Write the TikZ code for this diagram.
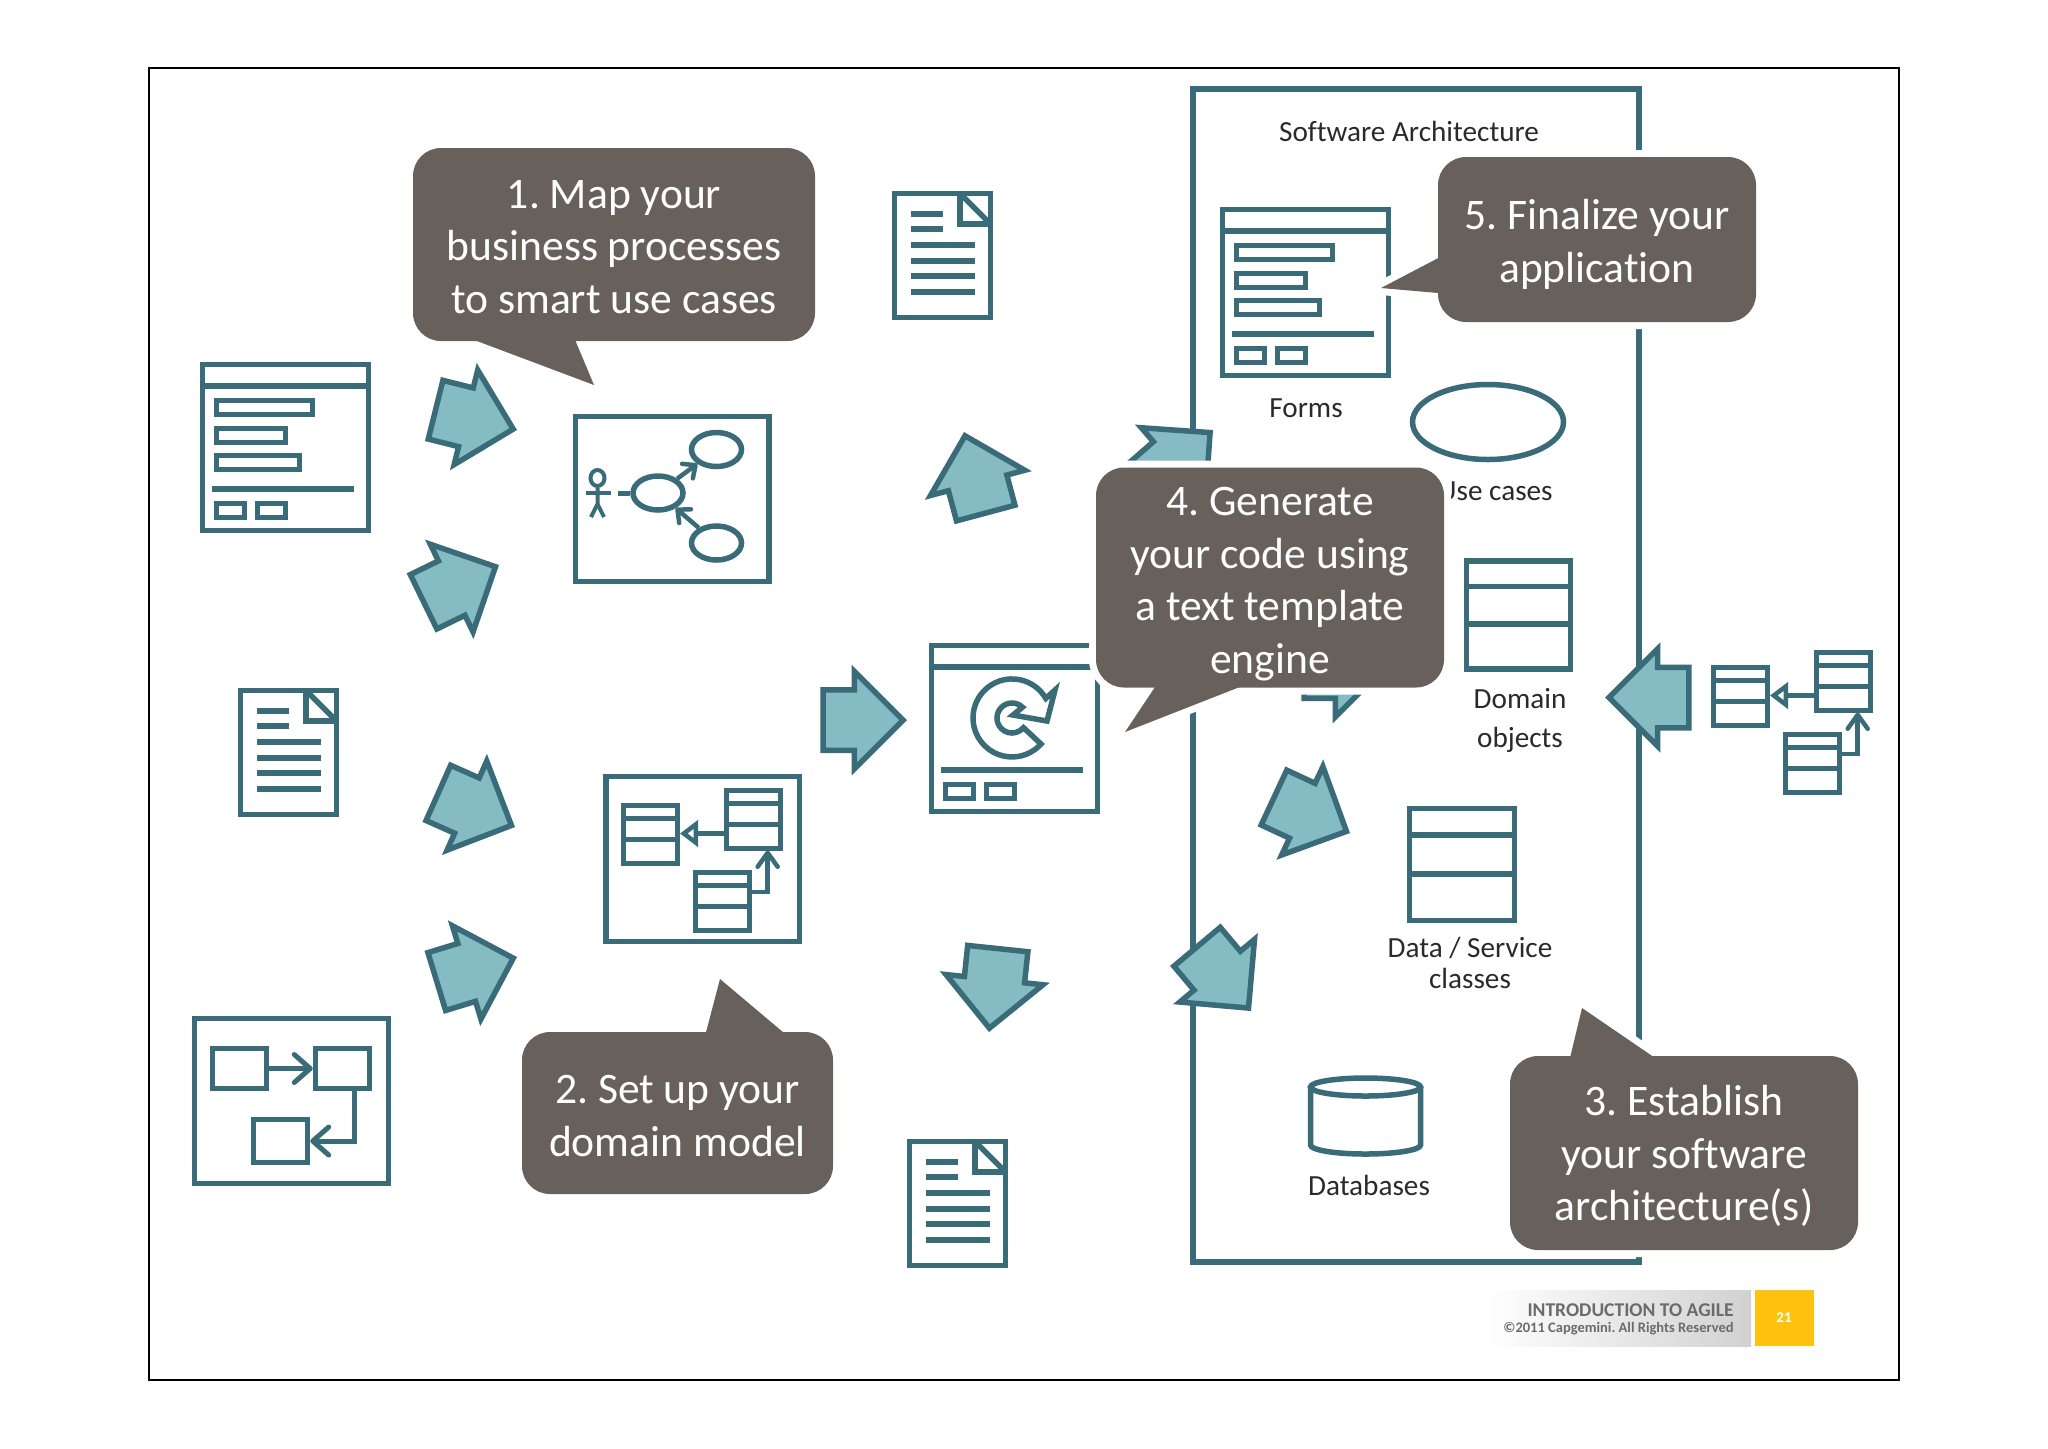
\documentclass[tikz,border=0pt]{standalone}
\usepackage{fontspec}
\setmainfont{Carlito}[Ligatures=NoCommon]
\usepackage{xcolor}
\usetikzlibrary{positioning, arrows.meta, calc, shapes.geometric, shapes.arrows}
\definecolor{tealline}{HTML}{3A6B78}
\definecolor{tealfill}{HTML}{85BCC4}
\definecolor{bubblegrey}{HTML}{67605B}
\definecolor{labelink}{HTML}{2A2A2E}
\definecolor{footerink}{HTML}{6B6B6B}
\definecolor{footeryellow}{HTML}{FFC20E}
\frenchspacing

\tikzset{
  iconline/.style={draw=tealline, line width=2.75pt, line join=miter},
  innerline/.style={draw=tealline, line width=2.5pt},
  textline/.style={draw=tealline, line width=3pt},
  fatarrow/.style={single arrow, draw=tealline, fill=tealfill, line width=2.75pt, inner xsep=0pt, inner ysep=13.75pt,
    minimum height=40pt, minimum width=46pt, single arrow head extend=9.25pt, anchor=tip},
  bubble/.style={fill=bubblegrey, rounded corners=14pt, inner sep=0pt},
  bubbletext/.style={text=white, align=center, inner sep=0pt, font=\fontsize{21.8}{26.3}\selectfont},
  bubblehalo/.style={draw=white, line width=7pt, rounded corners=14pt, inner sep=0pt},
  archlabel/.style={text=labelink, align=center, inner sep=0pt, font=\fontsize{14.6}{15}\selectfont},
  tablebox/.style={draw=tealline, inner sep=0pt},
  useellipse/.style={ellipse, draw=tealline, line width=2.75pt, inner sep=0pt, minimum width=25pt, minimum height=17pt},
  flowbox/.style={rectangle, draw=tealline, line width=2.75pt, inner sep=0pt, minimum width=27pt, minimum height=20pt},
}

\newcommand{\formicon}[2]{
  \begin{scope}[shift={(#1,#2)}]
    \draw[iconline] (2.5,2.5) rectangle (168.5,168.5);
    \draw[iconline] (2.5,24) -- (168.5,24);
    \draw[iconline] (12,127) -- (154,127);
    \draw[innerline] (16,141) rectangle (44,155);
    \draw[innerline] (57,141) rectangle (85,155);
  \end{scope}
}
\newcommand{\formbars}[2]{
  \begin{scope}[shift={(#1,#2)}]
    \draw[innerline] (16,38) rectangle (112,52);
    \draw[innerline] (16,66) rectangle (85,80);
    \draw[innerline] (16,93) rectangle (99,107);
  \end{scope}
}
\newcommand{\docicon}[2]{
  \begin{scope}[shift={(#1,#2)}]
    \draw[iconline] (2.5,2.5) rectangle (98.5,126.5);
    \draw[iconline] (68,2.5) -- (68,33) -- (98.5,33);
    \draw[iconline] (70,4.5) -- (96.5,31);
    \foreach \ly/\lx in {23/51, 38/51, 54/83, 70/83, 85/83, 101/83}
      \draw[textline] (19,\ly) -- (\lx,\ly);
  \end{scope}
}
\newcommand{\tableicon}[6]{
  \node[tablebox, line width=#6, minimum width=#4*0.5pt, minimum height=#5*0.5pt] (#1) at (#2,#3) {};
  \draw[tealline, line width=#6] ($(#1.north west)!.25!(#1.south west)$) -- ($(#1.north east)!.25!(#1.south east)$);
  \draw[tealline, line width=#6] ($(#1.north west)!.58!(#1.south west)$) -- ($(#1.north east)!.58!(#1.south east)$);
}
\newcommand{\domainicon}[3]{
  \begin{scope}[shift={(#2,#3)}]
    \tableicon{#1a}{29.5}{31.5}{54}{58}{2.5pt}
    \tableicon{#1b}{132.5}{16}{54}{58}{2.5pt}
    \tableicon{#1c}{101}{98.5}{54}{58}{2.5pt}
    \coordinate (#1bs) at ($(#1b.south west)!.27!(#1b.north west)$);
    \coordinate (#1cs) at ($(#1c.south east)!.65!(#1c.north east)$);
    \coordinate (#1bt) at ($(#1b.south west)!.74!(#1b.south east)$);
    \draw[tealline, line width=2.5pt, -{Triangle[open, fill=white, length=9pt, width=13pt]}] (#1bs) -- (#1bs -| #1a.east);
    \draw[tealline, line width=2.25pt, -{Straight Barb[length=7pt, width=10pt, round]}] (#1cs) -| (#1bt);
  \end{scope}
}
\newcommand{\speechbubble}[7]{
  \path[draw=white, line width=7pt, line join=round] #5 -- cycle;
  \node[bubblehalo, minimum width=#3*0.5pt, minimum height=#4*0.5pt] at #2 {};
  \fill[bubblegrey] #5 -- cycle;
  \node[bubble, minimum width=#3*0.5pt, minimum height=#4*0.5pt] (#1) at #2 {};
  \node[bubbletext] at ($(#1.center)+(0,#6)$) {#7};
}

\begin{document}
\begin{tikzpicture}[x=0.5pt, y=-0.5pt]
  \useasboundingbox (0,0) rectangle (2048,1448);
  \fill[white] (0,0) rectangle (2048,1448);
  \draw[black, line width=1.25pt] (149,68) rectangle (1899,1380);

  \draw[iconline] (1193,89) rectangle (1639,1262);
  \node[archlabel] (archtitle) at (1409,131) {Software Architecture};

  \formicon{200}{362}
  \formbars{200}{362}
  \formicon{1220}{207}
  \formbars{1220}{207}
  \formicon{929}{643}
  \docicon{892}{191}
  \docicon{238}{688}
  \docicon{907}{1139}

  % use case box
  \draw[iconline] (575.5,416.5) rectangle (769,581.5);
  \node[useellipse] (usetop) at (716.5,449.5) {};
  \node[useellipse] (usemid) at (658,493) {};
  \node[useellipse] (usebot) at (716.5,543) {};
  \node[ellipse, draw=tealline, line width=2pt, inner sep=0pt, minimum width=7pt, minimum height=8pt] (actorhead) at (597.5,478) {};
  \draw[tealline, line width=2pt] (actorhead.south) -- (597.5,504) -- (591,517);
  \draw[tealline, line width=2pt] (597.5,504) -- (604,517);
  \draw[tealline, line width=2.25pt] (585.5,493) -- (611,493);
  \draw[tealline, line width=2.5pt] (usemid.west) -- ++(-12,0);
  \draw[tealline, line width=2.25pt, -{Straight Barb[length=5pt, width=9pt, round]}] (usemid) -- (usetop);
  \draw[tealline, line width=2.25pt, -{Straight Barb[length=5pt, width=9pt, round]}] (usebot) -- (usemid);

  % domain model
  \draw[iconline] (606,776.5) rectangle (799.5,941.5);
  \domainicon{dm}{621}{803}
  \domainicon{dr}{1711}{665}

  % flow box
  \draw[iconline] (194.5,1018.5) rectangle (388.5,1183.5);
  \node[flowbox] (flowa) at (239.5,1068.5) {};
  \node[flowbox] (flowb) at (342.5,1068.5) {};
  \node[flowbox, minimum height=21.5pt] (flowc) at (280.5,1141) {};
  \draw[tealline, line width=2.5pt, -{Straight Barb[length=8pt, width=14pt, round]}] (flowa) -- (flowb);
  \draw[tealline, line width=2.5pt, -{Straight Barb[length=8pt, width=14pt, round]}] (354,1091) |- (flowc);

  % generator
  \draw[iconline] (1041,744) arc[start angle=42, end angle=330, radius=39]
    -- (1055,690) -- (1047,721) -- (1013,715) -- (1022.4,707.2)
    arc[start angle=314, end angle=40, radius=15] -- cycle;

  % architecture items
  \node[archlabel] (formslabel) at (1306,408) {Forms};
  \node[ellipse, draw=tealline, line width=2.75pt, inner sep=0pt, minimum width=75.5pt, minimum height=37.5pt] (usecaseshape) at (1488,422) {};
  \node[archlabel, anchor=east] (usecaselabel) at (1553,491) {Use cases};
  \tableicon{domaintable}{1518.5}{615}{104}{108}{2.75pt}
  \node[archlabel, font=\fontsize{14.6}{19.5}\selectfont] (domainlabel) at (1520,720.5) {Domain\\objects};
  \tableicon{datatable}{1462}{864.5}{105}{112}{2.75pt}
  \node[archlabel, font=\fontsize{14.6}{15.5}\selectfont] (datalabel) at (1470,962.5) {Data / Service\\classes};
  \draw[iconline] (1310.5,1087) -- (1310.5,1145) arc[start angle=180, end angle=0, x radius=55, y radius=9] -- (1420.5,1087);
  \draw[iconline] (1365.5,1087) ellipse[x radius=55, y radius=9];
  \node[archlabel] (dblabel) at (1369,1185) {Databases};

  % fat arrows
  \node[fatarrow, rotate=-14] (arrowa) at (517,430) {};
  \node[fatarrow, rotate=26] (arrowb) at (499,565) {};
  \node[fatarrow, rotate=-24] (arrowc) at (515,827) {};
  \node[fatarrow, rotate=17] (arrowd) at (517,957) {};
  \node[fatarrow] (arrowe) at (907,720) {};
  \node[fatarrow, rotate=105] (arrowf) at (964,432) {};
  \node[fatarrow, rotate=41] (arrowg) at (1213,430) {};
  \node[fatarrow] (arrowh) at (1388,668) {};
  \node[fatarrow, rotate=-25] (arrowi) at (1350,833) {};
  \node[fatarrow, rotate=-50] (arrowj) at (1251,1011) {};
  \node[fatarrow, rotate=-96] (arrowk) at (989,1032) {};
  \node[fatarrow, rotate=180] (arrowl) at (1605,697.5) {};

  % bubbles
  \speechbubble{mapbubble}{(614,244.5)}{402}{193}{(461,335) -- (594,385) -- (573,335)}{2.5}{1. Map your\\business processes\\to smart use cases}
  \speechbubble{domainbubble}{(677.5,1113)}{311}{162}{(704.5,1038) -- (720,979) -- (790,1038)}{3}{2. Set up your\\domain model}
  \speechbubble{archbubble}{(1684,1153)}{348}{194}{(1569,1062) -- (1582,1008) -- (1661,1062)}{3}{3. Establish\\your software\\architecture(s)}
  \speechbubble{codebubble}{(1270,577.5)}{348}{220}{(1159,681) -- (1125,732) -- (1255,681)}{6.5}{4. Generate\\your code using\\a text template\\engine}
  \speechbubble{finalbubble}{(1597,239.5)}{318}{165}{(1444,255) -- (1381,288) -- (1444,293.5)}{5}{5. Finalize your\\application}

  % footer
  \node[left color=white, right color=black!18, minimum width=133pt, minimum height=28pt, inner sep=0pt] (footerband) at (1618,1318) {};
  \node[fill=footeryellow, minimum width=29.5pt, minimum height=28pt, inner sep=0pt, text=white, font=\fontsize{7.5}{9}\bfseries\selectfont] (pagebox) at (1784,1318) {21};
  \node[anchor=east, inner sep=0pt, text=footerink, font=\fontsize{9.75}{11}\bfseries\selectfont] (footertitle) at (1734,1310) {INTRODUCTION TO AGILE};
  \node[anchor=east, inner sep=0pt, text=footerink, font=\fontsize{7.25}{9}\bfseries\selectfont] (footernote) at (1734,1329) {©2011 Capgemini. All Rights Reserved};
\end{tikzpicture}
\end{document}
